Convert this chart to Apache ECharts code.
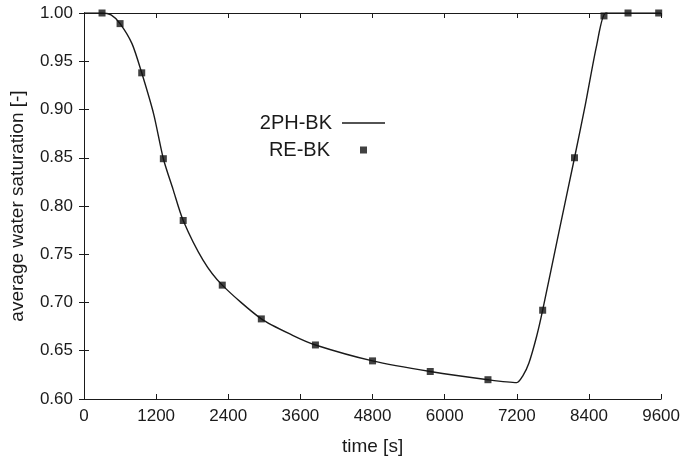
<!DOCTYPE html>
<html>
<head>
<meta charset="utf-8">
<script src="https://cdn.jsdelivr.net/npm/echarts@6/dist/echarts.min.js"></script>
<style>
  html, body { margin: 0; padding: 0; background: #fff; }
  #container { width: 683px; height: 461px; }
</style>
</head>
<body>
<div id="container"></div>
<script>
// time [s] and saturation of the 2PH-BK solution (line)
var lineTime = [0, 300, 450, 600, 800, 960, 1160, 1320, 1480, 1650, 1980, 2300, 2950, 3470, 3850, 4800, 5760, 6720, 7200,
                7300, 7400, 7530, 7630, 7900, 8160, 8340, 8530, 8680, 8900, 9600];
var lineSat = [1.0, 1.0, 0.998, 0.989, 0.968, 0.938, 0.895, 0.849, 0.8175, 0.785, 0.744, 0.718, 0.683, 0.666, 0.656, 0.6395, 0.6285, 0.620, 0.617,
               0.624, 0.637, 0.665, 0.692, 0.773, 0.850, 0.905, 0.967, 1.0, 1.0, 1.0];
// RE-BK points (markers)
var markTime = [300, 600, 960, 1320, 1650, 2300, 2950, 3850, 4800, 5760, 6720, 7630, 8160, 8650, 9050, 9560];
var markSat = [1.0, 0.989, 0.938, 0.849, 0.785, 0.718, 0.683, 0.656, 0.6395, 0.6285, 0.620, 0.692, 0.850, 0.997, 1.0, 1.0];
var xTicks = [0, 1200, 2400, 3600, 4800, 6000, 7200, 8400, 9600];
var yTicks = [0.60, 0.65, 0.70, 0.75, 0.80, 0.85, 0.90, 0.95, 1.00];

var fontName = 'Liberation Sans';
var ink = '#1a1a1a';

var lineData = [];
for (var i = 0; i < lineTime.length; i++) {
    lineData.push([lineTime[i], lineSat[i]]);
}
var markData = [];
for (var i = 0; i < markTime.length; i++) {
    markData.push([markTime[i], markSat[i]]);
}

var dom = document.getElementById("container");
var myChart = echarts.init(dom, null, { renderer: 'canvas' });

var axisLine = { show: true, lineStyle: { color: ink, width: 1 } };
var inTick = { show: true, inside: true, length: 5, lineStyle: { color: ink, width: 1 } };

var option = {
    animation: false,
    backgroundColor: '#fff',
    grid: { left: 84, right: 20, top: 13, bottom: 60, containLabel: false },
    legend: [{
        data: [{ name: '2PH-BK', icon: 'rect' }],
        orient: 'vertical',
        align: 'right',
        right: 293,
        top: 107,
        itemWidth: 43,
        itemHeight: 1.5,
        selectedMode: false,
        textStyle: { fontFamily: fontName, fontSize: 20, color: ink, lineHeight: 22, padding: [0, 5, 0, 0] }
    }, {
        data: [{ name: 'RE-BK', icon: 'rect' }],
        orient: 'vertical',
        align: 'right',
        right: 311,
        top: 134,
        itemWidth: 7,
        itemHeight: 7,
        selectedMode: false,
        textStyle: { fontFamily: fontName, fontSize: 20, color: ink, lineHeight: 22, padding: [0, 25, 0, 0] }
    }],
    xAxis: [{
        type: 'value',
        min: xTicks[0],
        max: xTicks[xTicks.length - 1],
        interval: 1200,
        name: 'time [s]',
        nameLocation: 'middle',
        nameGap: 38,
        nameTextStyle: { fontFamily: fontName, fontSize: 19, color: ink },
        axisLine: axisLine,
        axisTick: inTick,
        axisLabel: {
            fontFamily: fontName, fontSize: 17, color: ink, margin: 9,
            formatter: function (v) { return String(v); }
        },
        splitLine: { show: false }
    }, {
        type: 'value',
        position: 'top',
        min: xTicks[0],
        max: xTicks[xTicks.length - 1],
        interval: 1200,
        axisLine: axisLine,
        axisTick: inTick,
        axisLabel: { show: false },
        splitLine: { show: false }
    }],
    yAxis: [{
        type: 'value',
        min: yTicks[0],
        max: yTicks[yTicks.length - 1],
        interval: 0.05,
        name: 'average water saturation [-]',
        nameLocation: 'middle',
        nameGap: 57,
        nameTextStyle: { fontFamily: fontName, fontSize: 19, color: ink },
        axisLine: axisLine,
        axisTick: inTick,
        axisLabel: {
            fontFamily: fontName, fontSize: 17, color: ink, margin: 11,
            formatter: function (v) { return v.toFixed(2); }
        },
        splitLine: { show: false }
    }, {
        type: 'value',
        position: 'right',
        min: yTicks[0],
        max: yTicks[yTicks.length - 1],
        interval: 0.05,
        axisLine: axisLine,
        axisTick: inTick,
        axisLabel: { show: false },
        splitLine: { show: false }
    }],
    series: [{
        name: '2PH-BK',
        type: 'line',
        data: lineData,
        smooth: 0.25,
        showSymbol: false,
        symbol: 'none',
        itemStyle: { color: ink },
        lineStyle: { color: ink, width: 1.4 },
        z: 2
    }, {
        name: 'RE-BK',
        type: 'scatter',
        data: markData,
        symbol: 'rect',
        symbolSize: 7,
        itemStyle: { color: '#111' },
        z: 3
    }]
};

if (option && typeof option === "object") {
    myChart.setOption(option, true);
}
</script>
</body>
</html>
